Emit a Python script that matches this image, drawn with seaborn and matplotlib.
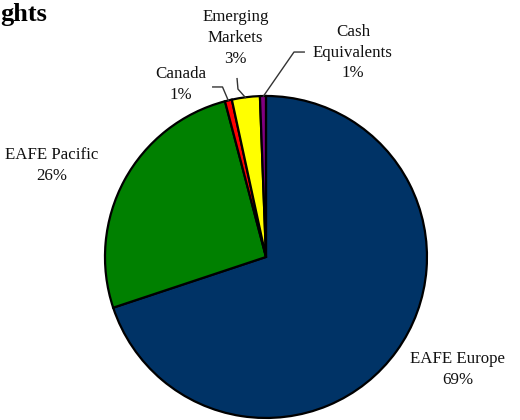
#!/usr/bin/env python3

import numpy as np
import matplotlib
matplotlib.use("Agg")
import matplotlib.pyplot as plt
import seaborn as sns

# slice data, clockwise from 12 o'clock
regions = ["EAFE Europe", "EAFE Pacific", "Canada", "Emerging\nMarkets", "Cash\nEquivalents"]
weights = [69.9, 26.0, 0.7, 2.8, 0.6]
pct_labels = ["69%", "26%", "1%", "3%", "1%"]
colors = ["#003366", "#008000", "#FF0000", "#FFFF00", "#800080"]

# label centres (data units, pie radius = 1)
label_pos = [(1.19, -0.70), (-1.33, 0.57), (-0.53, 1.07), (-0.19, 1.36), (0.54, 1.27)]
# leader lines: (elbow, end) for the small slices, None for the big ones
leaders = [None, None,
           ((-0.27, 1.056), (-0.335, 1.056)),
           ((-0.174, 1.043), (-0.18, 1.112)),
           ((0.174, 1.273), (0.242, 1.273))]

sns.set_theme(style="white")
plt.rcParams['font.family'] = ['Liberation Serif', 'DejaVu Serif']

fig = plt.figure(figsize=(5.2, 4.2), dpi=100)
ax = fig.add_axes([0.2019, 0.0048, 0.6192, 0.7667])

wedges, _ = ax.pie(weights, colors=colors, startangle=90, counterclock=False,
                   wedgeprops=dict(edgecolor="black", linewidth=1.6))
ax.set_xlim(-1, 1)
ax.set_ylim(-1, 1)
ax.set_aspect("equal")
ax.axis("off")

for w, name, pct, pos, lead in zip(wedges, regions, pct_labels, label_pos, leaders):
    ax.text(pos[0], pos[1], f"{name}\n{pct}", ha="center", va="center",
            fontsize=12.2, linespacing=1.4, color="#111111", clip_on=False)
    if lead is not None:
        mid = np.deg2rad((w.theta1 + w.theta2) / 2)
        rim = (np.cos(mid) * 0.995, np.sin(mid) * 0.995)
        (ex, ey), (tx, ty) = lead
        ax.plot([rim[0], ex, tx], [rim[1], ey, ty], color="#333333", lw=1.0,
                clip_on=False, solid_capstyle="butt")

# the title is cropped in the reference; only its tail is visible
fig.text(0.5 / 520, 1 - 21 / 420, "ghts", ha="left", va="baseline",
         fontsize=19, fontweight="bold", color="black")

fig.savefig("out.png", dpi=100)
